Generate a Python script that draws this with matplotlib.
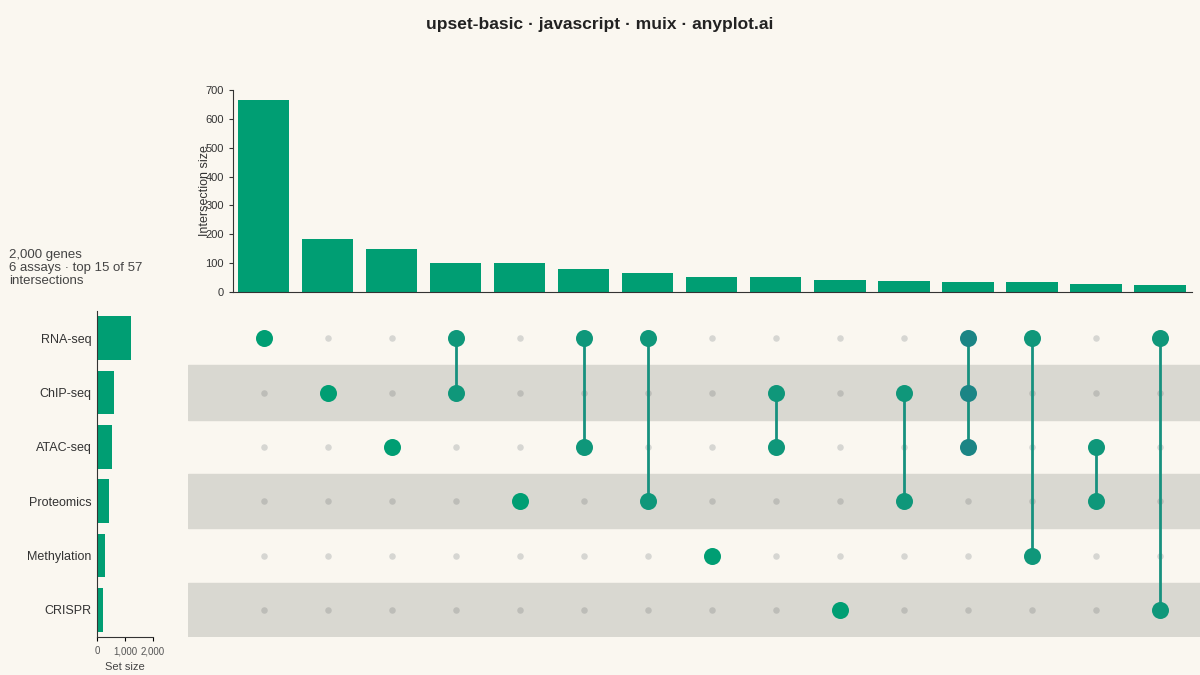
import matplotlib
matplotlib.use("Agg")
import matplotlib.pyplot as plt

sets = ["RNA-seq", "ChIP-seq", "ATAC-seq", "Proteomics", "Methylation", "CRISPR"]
set_sizes = [1200, 610, 540, 420, 290, 210]
combos = [[0], [1], [2], [0, 1], [3], [0, 2], [0, 3], [4], [1, 2], [5],
          [1, 3], [0, 1, 2], [0, 4], [2, 3], [0, 5]]
inter_sizes = [665, 185, 150, 102, 102, 80, 65, 52, 52, 42, 37, 36, 36, 28, 25]

BG = "#faf7f0"
GREEN = "#009E73"
LINE = "#17917f"
plt.rcParams['font.family'] = ['Liberation Sans', 'DejaVu Sans']
fig = plt.figure(figsize=(12, 6.75), dpi=100, facecolor=BG)
W, H = 1200, 675
def ax_px(l, t, r, b):
    return fig.add_axes([l / W, 1 - b / H, (r - l) / W, (b - t) / H])

fig.text(0.5, 1 - 25 / H, "upset-basic · javascript · muix · anyplot.ai", ha="center", va="center",
         fontsize=12.5, fontweight="bold", color="#222")
fig.text(9 / W, 1 - 249 / H, "2,000 genes\n6 assays · top 15 of 57\nintersections", ha="left", va="top",
         fontsize=9.5, color="#444", linespacing=1.12)

n = len(combos)
axt = ax_px(233, 90, 1192, 292)
axt.set_facecolor(BG)
axt.bar(range(n), inter_sizes, width=0.8, color=GREEN)
axt.set_xlim(-0.48, n - 0.5)
axt.set_ylim(0, 700)
axt.set_yticks(range(0, 701, 100))
axt.tick_params(axis="y", labelsize=8, colors="#333", length=3)
axt.set_xticks([])
for s in ["top", "right"]:
    axt.spines[s].set_visible(False)
axt.spines["left"].set_color("#333")
axt.spines["bottom"].set_color("#333")
axt.set_ylabel("Intersection size", fontsize=9, color="#333", labelpad=-4)

axm = ax_px(188, 311, 1200, 637)
axm.set_facecolor(BG)
axm.set_xlim(-1.19, 14.625)
axm.set_ylim(5.5, -0.5)
for i in range(len(sets)):
    if i % 2 == 1:
        axm.axhspan(i - 0.5, i + 0.5, color="#d9d8d1", zorder=0)
for j, c in enumerate(combos):
    for i in range(len(sets)):
        if i not in c:
            axm.scatter(j, i, s=22, color="#bdbdb8" if i % 2 else "#d6d6d2", zorder=2, linewidths=0)
    col = GREEN if len(c) == 1 else ("#0f977a" if len(c) == 2 else "#1b8585")
    if len(c) > 1:
        axm.plot([j, j], [min(c), max(c)], color=LINE, lw=2, zorder=3)
    axm.scatter([j] * len(c), c, s=150, color=col, zorder=4, linewidths=0)
axm.axis("off")

axs = ax_px(97, 311, 153, 637)
axs.set_facecolor(BG)
axs.barh(range(len(sets)), set_sizes, height=0.8, color=GREEN)
axs.set_ylim(5.5, -0.5)
axs.set_xlim(0, 2000)
axs.set_yticks(range(len(sets)))
axs.set_yticklabels(sets, fontsize=9, color="#333")
axs.tick_params(axis="y", length=0, pad=4)
axs.set_xticks([0, 1000, 2000])
axs.set_xticklabels(["0", "1,000", "2,000"], fontsize=7, color="#555")
axs.tick_params(axis="x", length=3)
for s in ["top", "right"]:
    axs.spines[s].set_visible(False)
axs.spines["left"].set_color("#333")
axs.spines["bottom"].set_color("#333")
axs.set_xlabel("Set size", fontsize=8, color="#444")

fig.savefig("out.png", dpi=100, facecolor=BG)
